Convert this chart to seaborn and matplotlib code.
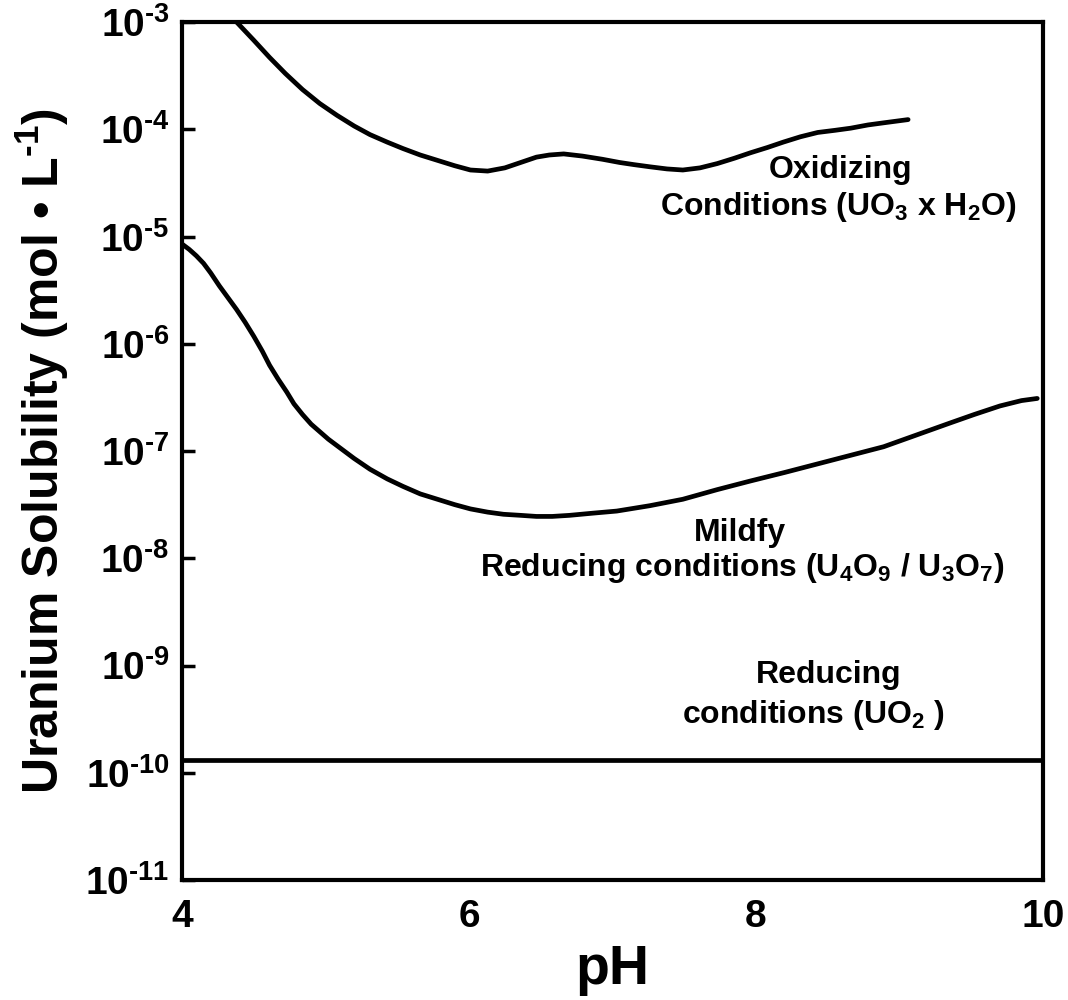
import numpy as np
import pandas as pd
import matplotlib
matplotlib.use("Agg")
import matplotlib.pyplot as plt
import seaborn as sns
from matplotlib.ticker import FixedLocator, FuncFormatter, NullLocator

# ---- data (pH, log10 solubility) ----
ox_ph = [4.38, 4.50, 4.61, 4.72, 4.84, 4.96, 5.08, 5.20, 5.31, 5.43, 5.54, 5.66,
         5.78, 5.90, 6.01, 6.13, 6.25, 6.36, 6.47, 6.56, 6.66, 6.79, 6.93, 7.05,
         7.15, 7.26, 7.38, 7.49, 7.61, 7.73, 7.85, 7.96, 8.08, 8.19, 8.31, 8.43,
         8.55, 8.66, 8.78, 8.89, 9.06]
ox_log = [-3.00, -3.17, -3.33, -3.48, -3.63, -3.76, -3.87, -3.97, -4.05, -4.12,
          -4.18, -4.24, -4.29, -4.34, -4.38, -4.39, -4.36, -4.31, -4.26, -4.24,
          -4.23, -4.25, -4.28, -4.31, -4.33, -4.35, -4.37, -4.38, -4.36, -4.32,
          -4.27, -4.22, -4.17, -4.12, -4.07, -4.03, -4.01, -3.99, -3.96, -3.94,
          -3.91]

mr_ph = [4.00, 4.05, 4.10, 4.15, 4.20, 4.26, 4.32, 4.38, 4.44, 4.50, 4.56, 4.61,
         4.67, 4.73, 4.78, 4.84, 4.90, 4.96, 5.02, 5.08, 5.20, 5.31, 5.43, 5.54,
         5.66, 5.78, 5.90, 6.01, 6.13, 6.24, 6.36, 6.47, 6.58, 6.70, 6.86, 7.03,
         7.26, 7.49, 7.73, 7.96, 8.20, 8.43, 8.66, 8.89, 9.12, 9.35, 9.52, 9.70,
         9.85, 9.96]
mr_log = [-5.07, -5.12, -5.18, -5.25, -5.34, -5.46, -5.57, -5.68, -5.80, -5.93,
          -6.07, -6.20, -6.33, -6.45, -6.56, -6.66, -6.75, -6.82, -6.89, -6.95,
          -7.07, -7.17, -7.26, -7.33, -7.40, -7.45, -7.50, -7.54, -7.57, -7.59,
          -7.60, -7.61, -7.61, -7.60, -7.58, -7.56, -7.51, -7.45, -7.36, -7.28,
          -7.20, -7.12, -7.04, -6.96, -6.85, -6.74, -6.66, -6.58, -6.53, -6.51]

red_ph = [4.0, 10.0]
red_log = [-9.88, -9.88]

x_ticks = [4, 6, 8, 10]
y_exps = [-3, -4, -5, -6, -7, -8, -9, -10, -11]

df = pd.concat([
    pd.DataFrame({"pH": ox_ph, "S": np.power(10.0, ox_log), "cond": "ox"}),
    pd.DataFrame({"pH": mr_ph, "S": np.power(10.0, mr_log), "cond": "mild"}),
    pd.DataFrame({"pH": red_ph, "S": np.power(10.0, red_log), "cond": "red"}),
])

sns.set_style("white")
plt.rcParams["font.family"] = ["Liberation Sans", "DejaVu Sans"]
plt.rcParams["font.weight"] = "bold"
plt.rcParams["mathtext.fontset"] = "custom"
plt.rcParams["mathtext.rm"] = "Liberation Sans:bold"
plt.rcParams["mathtext.bf"] = "Liberation Sans:bold"
plt.rcParams["mathtext.it"] = "Liberation Sans:bold"
plt.rcParams["mathtext.default"] = "rm"
for k in ["text.color", "axes.labelcolor", "xtick.color", "ytick.color", "axes.edgecolor"]:
    plt.rcParams[k] = "black"

fig = plt.figure(figsize=(10.68, 10.0), dpi=100)
ax = fig.add_axes([182 / 1068, 1 - 880 / 1000, (1043 - 182) / 1068, (880 - 22) / 1000])
ax.set_yscale("log")

for c in ["ox", "mild", "red"]:
    sub = df[df["cond"] == c]
    sns.lineplot(data=sub, x="pH", y="S", ax=ax, color="black", linewidth=3.4,
                 sort=False, estimator=None, legend=False)

ax.set_xlim(4, 10)
ax.set_ylim(1e-11, 1e-3)

for s in ax.spines.values():
    s.set_linewidth(3.0)
    s.set_color("black")

ax.xaxis.set_major_locator(FixedLocator(x_ticks))
ax.set_xticklabels([str(t) for t in x_ticks])
ax.yaxis.set_major_locator(FixedLocator([10.0 ** e for e in y_exps]))
ax.yaxis.set_minor_locator(NullLocator())
ax.yaxis.set_major_formatter(
    FuncFormatter(lambda v, p: r"$10^{\text{-%d}}$" % abs(round(np.log10(v)))))
ax.tick_params(axis="y", direction="in", length=9, width=2.5, pad=9,
               labelsize=28, left=True)
ax.tick_params(axis="x", length=0, pad=14, labelsize=28)

ax.set_xlabel("pH", fontsize=40, fontweight="bold", labelpad=6)
ax.set_ylabel(r"Uranium Solubility (mol • L$^{\text{-1}}$)", fontsize=36,
              fontweight="bold", labelpad=10)

tkw = dict(ha="center", va="baseline", fontsize=23, fontweight="bold")
ax.text(8.59, 10 ** -4.451, "Oxidizing", **tkw)
ax.text(8.57, 10 ** -4.795, r"Conditions (UO$_3$ x H$_2$O)", **tkw)
ax.text(7.89, 10 ** -7.837, "Mildfy", **tkw)
ax.text(7.90, 10 ** -8.163, r"Reducing conditions (U$_4$O$_9$ / U$_3$O$_7$)", **tkw)
ax.text(8.51, 10 ** -9.167, "Reducing", **tkw)
ax.text(8.40, 10 ** -9.540, r"conditions (UO$_2$ )", **tkw)

fig.savefig("out.png", dpi=100)
